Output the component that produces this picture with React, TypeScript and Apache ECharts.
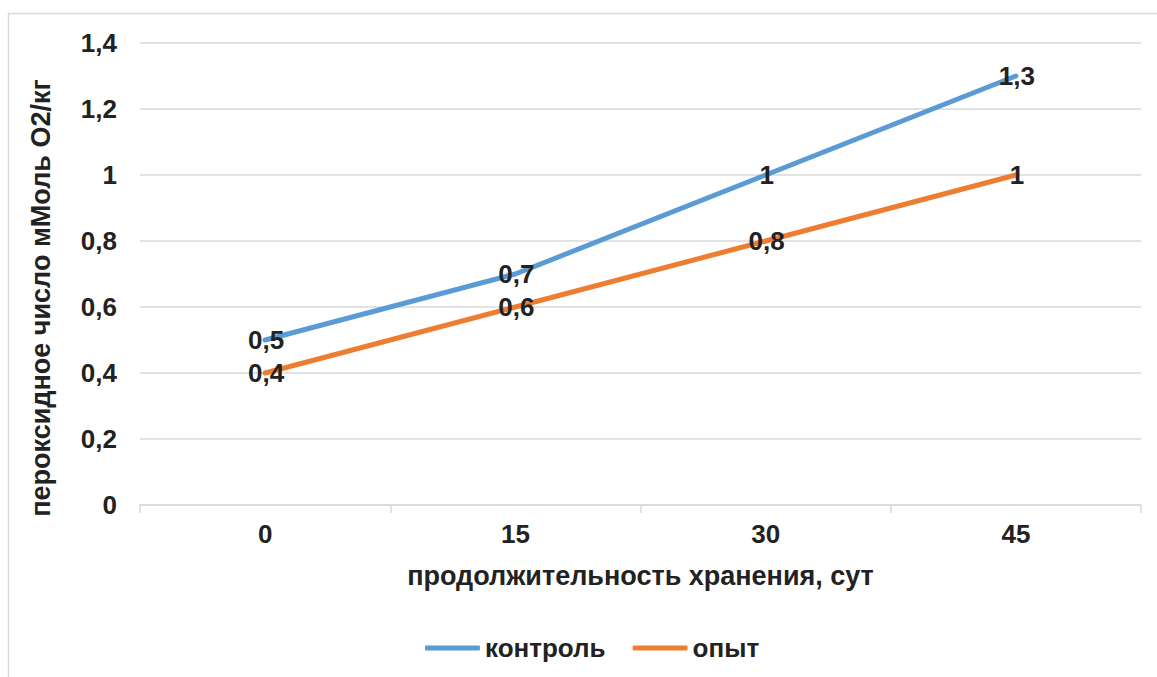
import React, { useEffect, useRef } from "react";
import * as echarts from "echarts";

const categories = ["0", "15", "30", "45"];
const controlValues = [0.5, 0.7, 1.0, 1.3];
const experimentValues = [0.4, 0.6, 0.8, 1.0];
const seriesNames = ["контроль", "опыт"];
const xTitle = "продолжительность хранения, сут";
const yTitle = "пероксидное число мМоль О2/кг";

const fmt = (v: number) => String(Number(v.toFixed(1))).replace(".", ",");

const FONT = "'Liberation Sans', Arial, sans-serif";
const TEXT = "#222222";
const FS = 26;
const TFS = 27;

export default function App() {
  const ref = useRef<HTMLDivElement>(null);
  useEffect(() => {
    if (!ref.current) return;
    const chart = echarts.init(ref.current, undefined, { renderer: "svg" });
    const label = {
      show: true,
      position: "inside",
      offset: [1, 0],
      formatter: (p: any) => fmt(p.value),
      fontSize: FS,
      fontWeight: "bold",
      fontFamily: FONT,
      color: TEXT,
    };
    chart.setOption({
      animation: false,
      backgroundColor: "#ffffff",
      textStyle: { fontFamily: FONT },
      graphic: [
        {
          type: "rect",
          shape: { x: 8.5, y: 13.5, width: 1300, height: 800 },
          style: { fill: "none", stroke: "#d9d9d9", lineWidth: 1.5 },
          silent: true,
          z: -10,
        },
      ],
      grid: { left: 140, right: 16, top: 43, bottom: 172, containLabel: false },
      legend: {
        left: 420,
        top: 630,
        itemWidth: 55,
        itemHeight: 5,
        itemGap: 27,
        icon: "roundRect",
        data: seriesNames,
        textStyle: {
          fontSize: FS,
          fontWeight: "bold",
          fontFamily: FONT,
          color: TEXT,
        },
      },
      xAxis: {
        type: "category",
        data: categories,
        boundaryGap: true,
        name: xTitle,
        nameLocation: "middle",
        nameGap: 57,
        nameTextStyle: { fontSize: TFS, fontWeight: "bold", fontFamily: FONT, color: TEXT },
        axisLine: { show: true, lineStyle: { color: "#d9d9d9", width: 1.5 } },
        axisTick: { show: true, length: 8, lineStyle: { color: "#d9d9d9", width: 1.5 } },
        axisLabel: { fontSize: FS, fontWeight: "bold", fontFamily: FONT, color: TEXT, margin: 16 },
        splitLine: { show: false },
      },
      yAxis: {
        type: "value",
        min: 0,
        max: 1.4,
        interval: 0.2,
        name: yTitle,
        nameLocation: "middle",
        nameGap: 86,
        nameRotate: 90,
        nameTextStyle: {
          fontSize: TFS,
          fontWeight: "bold",
          fontFamily: FONT,
          color: TEXT,
          padding: [0, 48, 0, 0],
        },
        axisLine: { show: false },
        axisTick: { show: false },
        axisLabel: {
          fontSize: FS,
          fontWeight: "bold",
          fontFamily: FONT,
          color: TEXT,
          margin: 23,
          formatter: (v: number) => fmt(v),
        },
        splitLine: { show: true, lineStyle: { color: "#d9d9d9", width: 1.5 } },
      },
      series: [
        {
          name: seriesNames[0],
          type: "line",
          data: controlValues,
          symbol: "circle",
          symbolSize: 0.1,
          showSymbol: true,
          lineStyle: { color: "#5B9BD5", width: 5, cap: "round" },
          itemStyle: { color: "#5B9BD5" },
          label,
          z: 3,
        },
        {
          name: seriesNames[1],
          type: "line",
          data: experimentValues,
          symbol: "circle",
          symbolSize: 0.1,
          showSymbol: true,
          lineStyle: { color: "#ED7D31", width: 5, cap: "round" },
          itemStyle: { color: "#ED7D31" },
          label,
          z: 3,
        },
      ],
    });
    return () => chart.dispose();
  }, []);
  return (
    <div
      ref={ref}
      style={{ position: "fixed", left: 0, top: 0, width: 1157, height: 677, background: "#fff" }}
    />
  );
}
